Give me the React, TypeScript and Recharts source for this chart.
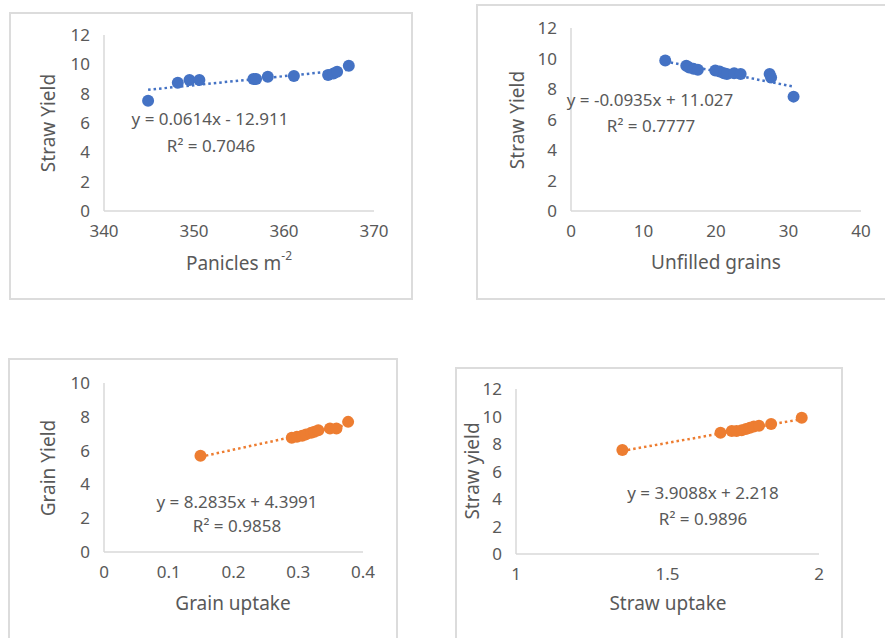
import React from 'react';
import { ScatterChart, Scatter, XAxis, YAxis, ReferenceLine } from 'recharts';

// ---------- data ----------
const panicles = [344.9, 348.2, 349.5, 350.6, 356.6, 356.9, 358.2, 361.1, 364.9, 365.5, 365.9, 367.2];
const strawYieldA = [7.52, 8.75, 8.93, 8.93, 9.0, 9.0, 9.16, 9.2, 9.27, 9.38, 9.5, 9.9];

const unfilledGrains = [13.0, 15.9, 16.3, 16.9, 17.5, 19.9, 20.5, 21.1, 21.5, 22.5, 23.4, 27.4, 27.6, 30.7];
const strawYieldB = [9.87, 9.52, 9.41, 9.32, 9.26, 9.21, 9.15, 9.04, 8.99, 9.04, 8.99, 8.99, 8.75, 7.5];

const grainUptake = [0.149, 0.29, 0.298, 0.306, 0.312, 0.32, 0.325, 0.331, 0.349, 0.359, 0.377];
const grainYield = [5.7, 6.76, 6.82, 6.88, 6.96, 7.05, 7.11, 7.21, 7.31, 7.31, 7.7];

const strawUptake = [1.351, 1.675, 1.712, 1.728, 1.745, 1.759, 1.772, 1.785, 1.802, 1.842, 1.943];
const strawYieldD = [7.56, 8.82, 8.95, 8.95, 9.0, 9.09, 9.19, 9.28, 9.33, 9.45, 9.91];

const trendSlopes = [0.0614, -0.0935, 8.2835, 3.9088];
const trendIntercepts = [-12.911, 11.027, 4.3991, 2.218];
const equationLabels = ['y = 0.0614x - 12.911', 'y = -0.0935x + 11.027', 'y = 8.2835x + 4.3991', 'y = 3.9088x + 2.218'];
const r2Labels = ['R² = 0.7046', 'R² = 0.7777', 'R² = 0.9858', 'R² = 0.9896'];

const xTicksA = [340, 350, 360, 370];
const xTicksB = [0, 10, 20, 30, 40];
const xTicksC = [0, 0.1, 0.2, 0.3, 0.4];
const xTicksD = [1, 1.5, 2];
const yTicks12 = [0, 2, 4, 6, 8, 10, 12];
const yTicks10 = [0, 2, 4, 6, 8, 10];

const xTitles = ['Panicles  m', 'Unfilled grains', 'Grain uptake', 'Straw uptake'];
const yTitles = ['Straw Yield', 'Straw Yield', 'Grain Yield', 'Straw yield'];

// ---------- styling ----------
const FONT = '"Noto Sans", "DejaVu Sans", sans-serif';
const TEXT = '#595959';
const AXIS = '#D9D9D9';
const BLUE = '#4472C4';
const ORANGE = '#ED7D31';

const zip = (xs: number[], ys: number[]) => xs.map((x, i) => ({ x, y: ys[i] }));

type Rect = { l: number; t: number; r: number; b: number };

const YW = 60;
const XH = 30;

function Panel(props: {
  box: Rect;
  plot: Rect;
  xs: number[];
  ys: number[];
  xTicks: number[];
  yTicks: number[];
  color: string;
  idx: number;
}) {
  const { box, plot, xs, ys, xTicks, yTicks, color, idx } = props;
  const w = box.r - box.l;
  const h = box.b - box.t;
  const margin = {
    top: plot.t - box.t,
    left: plot.l - box.l - YW,
    right: box.r - plot.r,
    bottom: box.b - plot.b - XH,
  };
  const data = zip(xs, ys);
  const x0 = Math.min(...xs);
  const x1 = Math.max(...xs);
  const m = trendSlopes[idx];
  const c = trendIntercepts[idx];
  const tick = { fill: TEXT, fontSize: 17, fontFamily: FONT };
  return (
    <div style={{ position: 'absolute', left: box.l, top: box.t, width: w, height: h }}>
      <ScatterChart width={w} height={h} margin={margin}>
        <XAxis
          type="number"
          dataKey="x"
          domain={[xTicks[0], xTicks[xTicks.length - 1]]}
          ticks={xTicks}
          interval={0}
          height={XH}
          tickLine={false}
          tickSize={0}
          tickMargin={14}
          axisLine={{ stroke: AXIS, strokeWidth: 1.5 }}
          tick={tick}
          allowDataOverflow
        />
        <YAxis
          type="number"
          dataKey="y"
          domain={[yTicks[0], yTicks[yTicks.length - 1]]}
          ticks={yTicks}
          interval={0}
          width={YW}
          tickLine={false}
          tickSize={0}
          tickMargin={14}
          axisLine={{ stroke: AXIS, strokeWidth: 1.5 }}
          tick={tick}
          allowDataOverflow
        />
        <ReferenceLine
          segment={[
            { x: x0, y: m * x0 + c },
            { x: x1, y: m * x1 + c },
          ]}
          stroke={color}
          strokeWidth={2.5}
          strokeDasharray="2.5 3"
          ifOverflow="visible"
        />
        <Scatter
          data={data}
          fill={color}
          isAnimationActive={false}
          shape={(p: any) => <circle cx={p.cx} cy={p.cy} r={6} fill={color} />}
        />
      </ScatterChart>
    </div>
  );
}

const boxes: Rect[] = [
  { l: 9, t: 12, r: 413, b: 300 },
  { l: 476, t: 4, r: 906, b: 300 },
  { l: 8, t: 358, r: 398, b: 660 },
  { l: 455, t: 367, r: 843, b: 660 },
];
const plots: Rect[] = [
  { l: 104, t: 35, r: 374, b: 211 },
  { l: 571, t: 28, r: 861, b: 211 },
  { l: 104, t: 383, r: 363, b: 552 },
  { l: 516, t: 389, r: 819, b: 554 },
];

// title positions: [xTitle cx, cy], [yTitle cx, cy], [eq cx, cy], [r2 cx, cy]
const textPos = [
  { xt: [239, 263], yt: [48, 123], eq: [210, 118], r2: [211, 145] },
  { xt: [716, 262], yt: [517, 120], eq: [650, 99], r2: [651, 125] },
  { xt: [233, 603], yt: [48, 468], eq: [237, 501], r2: [237, 525] },
  { xt: [668, 603], yt: [472, 471], eq: [703, 492], r2: [703, 518] },
];

export default function App() {
  const series = [
    { xs: panicles, ys: strawYieldA, xTicks: xTicksA, yTicks: yTicks12, color: BLUE },
    { xs: unfilledGrains, ys: strawYieldB, xTicks: xTicksB, yTicks: yTicks12, color: BLUE },
    { xs: grainUptake, ys: grainYield, xTicks: xTicksC, yTicks: yTicks10, color: ORANGE },
    { xs: strawUptake, ys: strawYieldD, xTicks: xTicksD, yTicks: yTicks12, color: ORANGE },
  ];
  return (
    <div
      style={{
        position: 'absolute',
        left: 0,
        top: 0,
        width: 885,
        height: 638,
        overflow: 'hidden',
        background: '#fff',
        fontFamily: FONT,
      }}
    >
      {boxes.map((b, i) => (
        <div
          key={'b' + i}
          style={{
            position: 'absolute',
            left: b.l,
            top: b.t,
            width: b.r - b.l,
            height: b.b - b.t,
            border: '2px solid #DCDCDC',
            boxSizing: 'border-box',
          }}
        />
      ))}
      {series.map((s, i) => (
        <Panel key={i} box={boxes[i]} plot={plots[i]} idx={i} {...s} />
      ))}
      <svg
        width={885}
        height={638}
        style={{ position: 'absolute', left: 0, top: 0, pointerEvents: 'none' }}
      >
        {textPos.map((p, i) => (
          <g key={i} fill={TEXT} fontFamily={FONT}>
            <text x={p.xt[0]} y={p.xt[1]} textAnchor="middle" dominantBaseline="central" fontSize={19}>
              {xTitles[i]}
              {i === 0 ? (
                <tspan fontSize={12} dy={-8}>
                  -2
                </tspan>
              ) : null}
            </text>
            <text
              x={p.yt[0]}
              y={p.yt[1]}
              textAnchor="middle"
              dominantBaseline="central"
              fontSize={19}
              transform={`rotate(-90 ${p.yt[0]} ${p.yt[1]})`}
            >
              {yTitles[i]}
            </text>
            <text x={p.eq[0]} y={p.eq[1]} textAnchor="middle" dominantBaseline="central" fontSize={17}>
              {equationLabels[i]}
            </text>
            <text x={p.r2[0]} y={p.r2[1]} textAnchor="middle" dominantBaseline="central" fontSize={17}>
              {r2Labels[i]}
            </text>
          </g>
        ))}
      </svg>
    </div>
  );
}
